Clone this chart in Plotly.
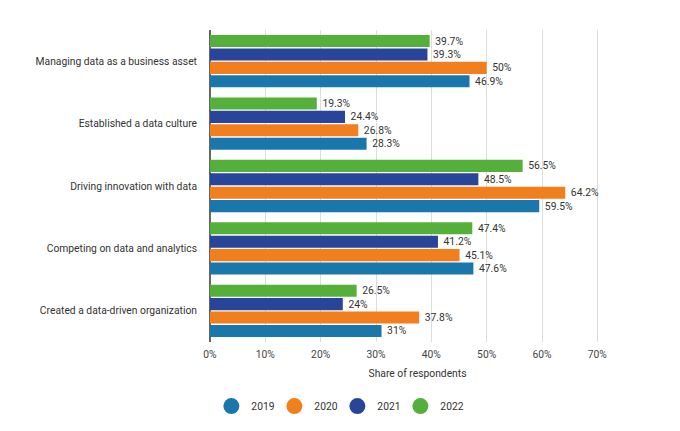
import plotly.graph_objects as go

categories = [
    "Managing data as a business asset",
    "Established a data culture",
    "Driving innovation with data",
    "Competing on data and analytics",
    "Created a data-driven organization",
]
years = ["2019", "2020", "2021", "2022"]
v2019 = [46.9, 28.3, 59.5, 47.6, 31]
v2020 = [50, 26.8, 64.2, 45.1, 37.8]
v2021 = [39.3, 24.4, 48.5, 41.2, 24]
v2022 = [39.7, 19.3, 56.5, 47.4, 26.5]
series = [v2019, v2020, v2021, v2022]
colors = ["#1a77ab", "#f17f1e", "#28459a", "#54b03a"]
xticks = [0, 10, 20, 30, 40, 50, 60, 70]
xticklabels = ["0%", "10%", "20%", "30%", "40%", "50%", "60%", "70%"]

FONT = "Roboto, Arial, sans-serif"
FS = 10.3

fig = go.Figure()
for yr, vals, col in zip(years, series, colors):
    fig.add_trace(go.Bar(
        y=categories, x=vals, orientation="h", name=yr,
        marker=dict(color=col, line=dict(width=0)),
        text=[f"\u00a0{v:g}%" for v in vals], textposition="outside",
        textfont=dict(family=FONT, size=12, color="#333"),
        cliponaxis=False, showlegend=False,
    ))
for yr, col in zip(years, colors):
    fig.add_trace(go.Scatter(
        x=[None], y=[None], mode="markers", name=yr,
        marker=dict(color=col, size=17, symbol="circle"),
        showlegend=True,
    ))
# spacer entry so the last legend label is not clipped
fig.add_trace(go.Scatter(
    x=[None], y=[None], mode="markers", name=" ",
    marker=dict(color="rgba(0,0,0,0)", size=1), showlegend=True, hoverinfo="skip",
))

fig.update_layout(
    width=672, height=423,
    barmode="group", bargap=0.14, bargroupgap=0.1,
    paper_bgcolor="white", plot_bgcolor="white",
    margin=dict(l=202, r=55, t=22, b=89, autoexpand=False),
    font=dict(family=FONT, size=FS, color="#333"),
    legend=dict(orientation="h", xref="container", x=0.537, xanchor="center",
                yref="container", y=0.059, yanchor="middle",
                font=dict(size=FS, color="#333"), itemsizing="trace",
                entrywidth=18, entrywidthmode="pixels",
                traceorder="normal"),
    xaxis=dict(range=[0, 75], tickvals=xticks, ticktext=xticklabels,
               showgrid=True, gridcolor="#dddddd", gridwidth=1,
               zeroline=True, zerolinecolor="#666", zerolinewidth=1.5,
               tickfont=dict(size=FS, color="#444"), automargin=False,
               ticklabelstandoff=5,
               title=dict(text="Share of respondents", font=dict(size=FS, color="#333"), standoff=9)),
    yaxis=dict(categoryorder="array", categoryarray=categories[::-1],
               tickfont=dict(size=FS, color="#333"), ticklabelstandoff=12,
               automargin=False, showgrid=False),
)
fig.write_html("out.html")
